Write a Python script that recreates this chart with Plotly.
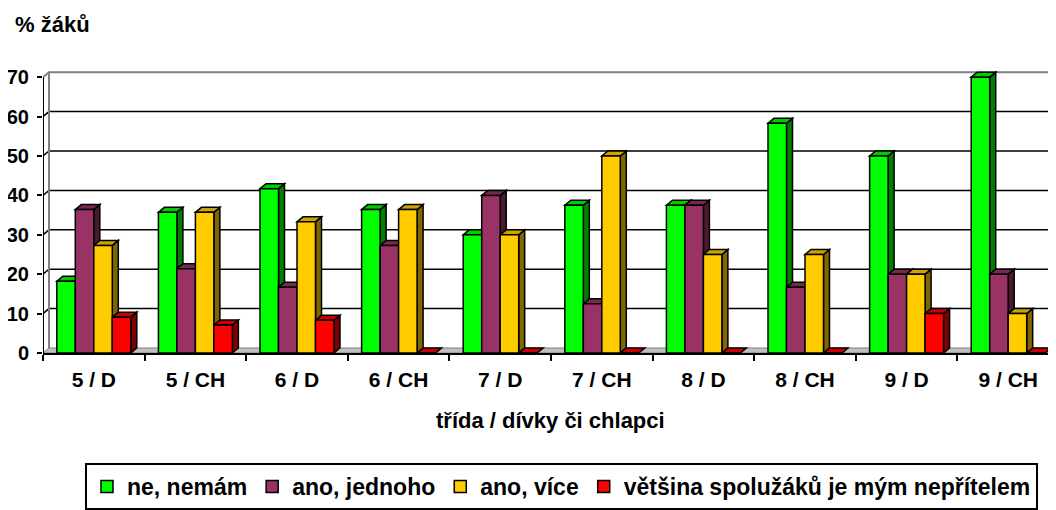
import plotly.graph_objects as go

# Data (percent of pupils)
categories = ["5 / D", "5 / CH", "6 / D", "6 / CH", "7 / D",
              "7 / CH", "8 / D", "8 / CH", "9 / D", "9 / CH"]
ne_nemam = [18.2, 35.7, 41.7, 36.4, 30.0, 37.5, 37.5, 58.3, 50.0, 70.0]
ano_jednoho = [36.4, 21.4, 16.7, 27.3, 40.0, 12.5, 37.5, 16.7, 20.0, 20.0]
ano_vice = [27.3, 35.7, 33.3, 36.4, 30.0, 50.0, 25.0, 25.0, 20.0, 10.0]
vetsina_nepritel = [9.1, 7.1, 8.3, 0, 0, 0, 0, 0, 10.0, 0]

series_names = ["ne, nemám", "ano, jednoho", "ano, více",
                "většina spolužáků je mým nepřítelem"]
series_values = [ne_nemam, ano_jednoho, ano_vice, vetsina_nepritel]
series_colors = ["#00FF00", "#993366", "#FFCC00", "#FF0000"]
y_ticks = [0, 10, 20, 30, 40, 50, 60, 70]

FONT = "Liberation Sans, Arial, sans-serif"

# The page body has an 8px margin, so lay the figure out relative to that
OFF = 8
W, H = 1056 - OFF, 510 - OFF
ML, MT = 43 - OFF, 69 - OFF
MR, MB = 0, 510 - 353
PX_CAT = 101.6   # pixels per category
PX_UNIT = 3.94   # pixels per percent
plot_w = W - ML - MR
plot_h = H - MT - MB
x_range = [-0.5, -0.5 + plot_w / PX_CAT]
y_range = [0, plot_h / PX_UNIT]

# 3D depth offset in data units
DX = 6 / PX_CAT
DY = 5 / PX_UNIT

BAR_W = 0.182
GROUP_START = -2 * BAR_W


def shade(hex_color, k):
    r, g, b = (int(hex_color[i:i + 2], 16) for i in (1, 3, 5))
    return "#%02x%02x%02x" % (int(r * k), int(g * k), int(b * k))


def poly(points):
    return "M " + " L ".join("%f,%f" % p for p in points) + " Z"


def px_x(px):
    # page pixel -> paper x
    return (px - OFF - ML) / plot_w


def px_y(px):
    # page pixel -> paper y
    return (MT + plot_h - (px - OFF)) / plot_h


shapes = []
x0 = x_range[0]
x_end = x_range[1] + 0.1

# Floor
shapes.append(dict(type="path", xref="x", yref="y", layer="below",
                   path=poly([(x0, 0), (x_end, 0), (x_end, DY), (x0 + DX, DY)]),
                   fillcolor="#c0c0c0", line=dict(color="#808080", width=1)))

# Gridlines on the back wall
for v in y_ticks[1:-1]:
    shapes.append(dict(type="path", xref="x", yref="y", layer="below",
                       path="M %f,%f L %f,%f L %f,%f" % (x0, v, x0 + DX, v + DY, x_end, v + DY),
                       line=dict(color="black", width=1.5)))

# Wall edges
top = y_ticks[-1]
shapes.append(dict(type="path", xref="x", yref="y", layer="below",
                   path="M %f,%f L %f,%f L %f,%f" % (x0, top, x0 + DX, top + DY, x_end, top + DY),
                   line=dict(color="#808080", width=2)))
shapes.append(dict(type="line", xref="x", yref="y", layer="below",
                   x0=x0 + DX, y0=DY, x1=x0 + DX, y1=top + DY,
                   line=dict(color="#808080", width=2)))
# Front value axis
shapes.append(dict(type="line", xref="x", yref="y", layer="above",
                   x0=x0, y0=0, x1=x0, y1=top,
                   line=dict(color="black", width=2)))

# Side and top faces of the columns
for c in range(len(categories)):
    for s, vals in enumerate(series_values):
        v = vals[c]
        left = c + GROUP_START + s * BAR_W
        right = left + BAR_W
        col = series_colors[s]
        if v > 0:
            shapes.append(dict(type="path", xref="x", yref="y", layer="below",
                               path=poly([(right, 0), (right + DX, DY), (right + DX, v + DY), (right, v)]),
                               fillcolor=shade(col, 0.5), line=dict(color="black", width=1.5)))
        shapes.append(dict(type="path", xref="x", yref="y", layer="below",
                           path=poly([(left, v), (left + DX, v + DY), (right + DX, v + DY), (right, v)]),
                           fillcolor=shade(col, 0.8), line=dict(color="black", width=1.5)))

fig = go.Figure()
for s, vals in enumerate(series_values):
    fig.add_trace(go.Bar(
        x=list(range(len(categories))),
        y=vals,
        name=series_names[s],
        width=BAR_W,
        offset=GROUP_START + s * BAR_W,
        marker=dict(color=series_colors[s], line=dict(color="black", width=1.5)),
    ))

fig.update_layout(
    width=W, height=H,
    margin=dict(l=ML, r=MR, t=MT, b=MB, pad=0, autoexpand=False),
    paper_bgcolor="white", plot_bgcolor="white",
    font=dict(family=FONT, color="black", size=21, weight="bold"),
    barmode="overlay",
    shapes=shapes,
    showlegend=True,
    legend=dict(orientation="h", x=px_x(85), y=px_y(510),
                xanchor="left", yanchor="bottom",
                bordercolor="black", borderwidth=2, bgcolor="white",
                font=dict(size=23, weight="bold"), traceorder="normal"),
    annotations=[
        dict(text="% žáků", xref="paper", yref="paper",
             x=px_x(13), y=px_y(24),
             xanchor="left", yanchor="middle", showarrow=False,
             font=dict(size=22, weight="bold")),
        dict(text="třída / dívky či chlapci", xref="paper", yref="paper",
             x=px_x(550), y=px_y(420),
             xanchor="center", yanchor="middle", showarrow=False,
             font=dict(size=22, weight="bold")),
    ],
)

fig.update_xaxes(
    range=x_range, showgrid=False, zeroline=False,
    showline=True, linecolor="black", linewidth=2,
    tickmode="array", tickvals=list(range(len(categories))), ticktext=categories,
    ticks="", ticklabelstandoff=7,
    minor=dict(tickmode="array", tickvals=[i - 0.5 for i in range(len(categories) + 1)],
               ticks="outside", ticklen=6, tickwidth=2, tickcolor="black"),
)
fig.update_yaxes(
    range=y_range, showgrid=False, zeroline=False, showline=False,
    tickmode="array", tickvals=y_ticks,
    ticks="outside", ticklen=5, tickwidth=2, tickcolor="black",
    ticklabelstandoff=4, tickfont=dict(size=20),
)

fig.write_html("out.html")
